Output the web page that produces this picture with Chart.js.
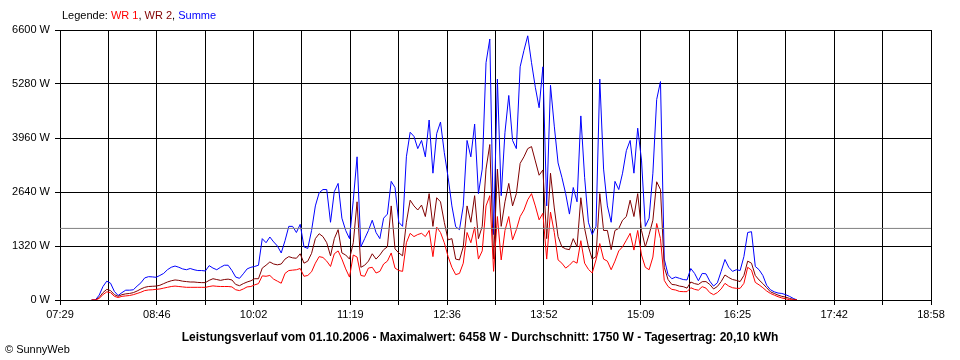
<!DOCTYPE html>
<html>
<head>
<meta charset="utf-8">
<script src="https://cdn.jsdelivr.net/npm/chart.js@4"></script>
<style>
  body { margin: 0; background: #fff; }
  #box { position: relative; width: 960px; height: 360px; font-family: "Liberation Sans", Arial, sans-serif; }
  #legende { position: absolute; left: 62px; top: 9px; font-size: 11px; line-height: 13px; }
  #titel { position: absolute; left: 0; width: 960px; top: 330px; text-align: center; font-size: 12px; font-weight: bold; line-height: 14px; }
  #copy { position: absolute; left: 5px; top: 342px; font-size: 11px; line-height: 14px; }
</style>
</head>
<body>
<div id="box">
  <canvas id="grafico" width="960" height="360"></canvas>
  <div id="legende">Legende: <span style="color:#ff0000">WR 1</span>, <span style="color:#800000">WR 2</span>, <span style="color:#0000ff">Summe</span></div>
  <div id="titel">Leistungsverlauf vom 01.10.2006 - Maximalwert: 6458 W - Durchschnitt: 1750 W - Tagesertrag: 20,10 kWh</div>
  <div id="copy">© SunnyWeb</div>
</div>
<script>
// Achse und Zeitraster
const inicio = '07:29';
const fim = '18:58';
const rotulosX = ['07:29', '08:46', '10:02', '11:19', '12:36', '13:52', '15:09', '16:25', '17:42', '18:58'];
const passoY = 1320;
const maxY = 6600;
const media = 1750;

// Messwerte: alle 3 Minuten ab 07:54
const primeiraHora = '07:54';
const passoMin = 3;

const wr1 = [0,0,40,130,200,180,90,60,90,100,110,130,160,190,230,245,250,260,270,290,
  310,330,340,330,320,310,310,310,310,310,310,330,345,335,330,330,330,320,250,230,
  270,320,330,370,400,590,580,
  600,510,460,410,650,720,730,740,770,580,600,690,900,1060,1040,950,820,1130,1200,1000,
  760,560,1100,1050,600,580,780,800,660,700,880,950,1150,780,720,700,1400,1630,1550,1600,
  1630,1550,1700,1060,1780,1650,1400,
  1060,800,620,650,900,1650,1400,1780,1000,1200,2300,2550,700,2040,980,1700,2040,1470,1720,2040,
  2200,2450,2600,2300,1960,2120,1000,2150,1650,980,900,780,850,950,900,1450,900,750,660,980,
  1380,1000,950,740,950,1200,1300,
  1460,1630,1220,1700,1100,800,740,1050,1870,1500,480,330,260,244,210,204,204,300,260,240,
  326,290,180,130,180,270,407,340,300,285,285,407,800,730,430,370,300,220,160,120,
  80,50,30,10,0,0];

const wr2 = [0,0,60,180,260,230,130,90,130,150,160,180,220,270,310,330,335,340,360,400,
  440,470,490,480,460,450,440,440,430,425,425,480,520,500,480,500,510,490,380,350,
  400,440,470,520,520,780,850,
  930,880,860,880,1000,1060,1030,1020,1130,900,950,1140,1500,1620,1550,1400,1080,1500,1720,1150,
  1100,1000,1400,2400,800,850,950,1130,1000,1100,1230,1300,2300,1250,1150,1080,1900,2440,2300,2200,
  2320,2040,2600,1800,2500,2400,1900,
  1470,1500,1000,980,1300,2300,1900,2550,1500,1800,3200,3800,1000,3200,1800,2400,2850,2300,2600,3340,
  3500,3700,3750,3400,3050,3180,1500,3100,2250,1550,1300,1250,1230,1500,1300,2500,1750,1300,1000,1060,
  2600,1700,1700,1230,1700,1750,1950,
  2040,2440,2040,2600,1700,1300,1600,1950,2890,2700,800,500,380,370,340,326,290,440,400,380,
  448,450,380,270,330,450,611,550,500,480,450,600,950,900,600,490,400,300,200,160,
  120,90,70,40,16,0];

const summe = [0,0,120,330,460,410,210,110,180,240,240,250,340,420,540,570,565,555,600,650,
  740,800,830,800,760,740,770,740,720,720,710,840,780,740,800,850,850,720,560,530,
  640,760,800,820,850,1500,1400,
  1540,1420,1320,1150,1450,1800,1800,1650,1850,1300,1260,1700,2300,2620,2700,2700,1900,2650,2850,2000,
  1700,1500,2440,3500,1300,1500,1700,1950,1650,1500,2000,2100,2900,2750,1900,1800,3500,4100,4000,3700,
  3900,3500,4400,3100,4070,4350,3600,
  3000,2300,1790,1720,2300,3900,3500,4300,2600,3200,5800,6380,1600,5400,2550,4100,5000,3900,3700,5700,
  6100,6458,5800,5200,4700,5700,2300,5250,4250,3350,3000,2600,2100,2750,2400,4500,3000,1900,1600,1800,
  5400,3200,2300,1900,2900,2700,3100,
  3650,3900,3100,4200,3420,1800,2000,3100,4900,5340,1000,620,520,560,530,500,490,770,650,470,
  650,640,460,340,420,700,990,800,700,740,720,1060,1650,1670,820,740,600,360,250,200,
  170,160,130,90,40,0];

function paraMinutos(s) {
  const [h, m] = s.split(':').map(Number);
  return h * 60 + m;
}

const minX = paraMinutos(inicio);
const maxX = paraMinutos(fim);
const t0 = paraMinutos(primeiraHora);

// Punkte mit Zeit in Minuten
function pontos(valores) {
  return valores.map((v, i) => ({ x: t0 + i * passoMin, y: v }));
}

const linha = (label, data, cor, ordem) => ({
  label: label,
  data: data,
  borderColor: cor,
  borderWidth: 1,
  pointRadius: 0,
  fill: false,
  tension: 0,
  order: ordem
});

Chart.defaults.font.family = '"Liberation Sans", Arial, sans-serif';
Chart.defaults.font.size = 11;
Chart.defaults.color = '#000';

new Chart(document.getElementById('grafico').getContext('2d'), {
  type: 'line',
  data: {
    datasets: [
      linha('Durchschnitt', [{ x: minX, y: media }, { x: maxX, y: media }], '#808080', 0),
      linha('WR 1', pontos(wr1), '#ff0000', 1),
      linha('WR 2', pontos(wr2), '#800000', 2),
      linha('Summe', pontos(summe), '#0000ff', 3)
    ]
  },
  options: {
    responsive: false,
    animation: false,
    layout: { padding: { top: 30, right: 29, bottom: 35, left: 0 } },
    plugins: { legend: { display: false }, tooltip: { enabled: false } },
    scales: {
      x: {
        type: 'linear',
        min: minX,
        max: maxX,
        afterBuildTicks: s => {
          s.ticks = Array.from({ length: 19 }, (_, k) => ({ value: minX + k * (maxX - minX) / 18 }));
        },
        afterFit: s => { s.height = 25; },
        grid: { color: '#000', tickLength: 5, tickColor: '#000' },
        border: { color: '#000' },
        ticks: {
          autoSkip: false,
          maxRotation: 0,
          padding: 3,
          callback: (v, i) => (i % 2 === 0 ? rotulosX[i / 2] : '')
        }
      },
      y: {
        min: 0,
        max: maxY,
        afterFit: s => { s.width = 60; },
        grid: { color: '#000', tickLength: 5, tickColor: '#000' },
        border: { color: '#000' },
        ticks: {
          stepSize: passoY,
          padding: 5,
          callback: v => v + ' W'
        }
      }
    }
  }
});
</script>
</body>
</html>
